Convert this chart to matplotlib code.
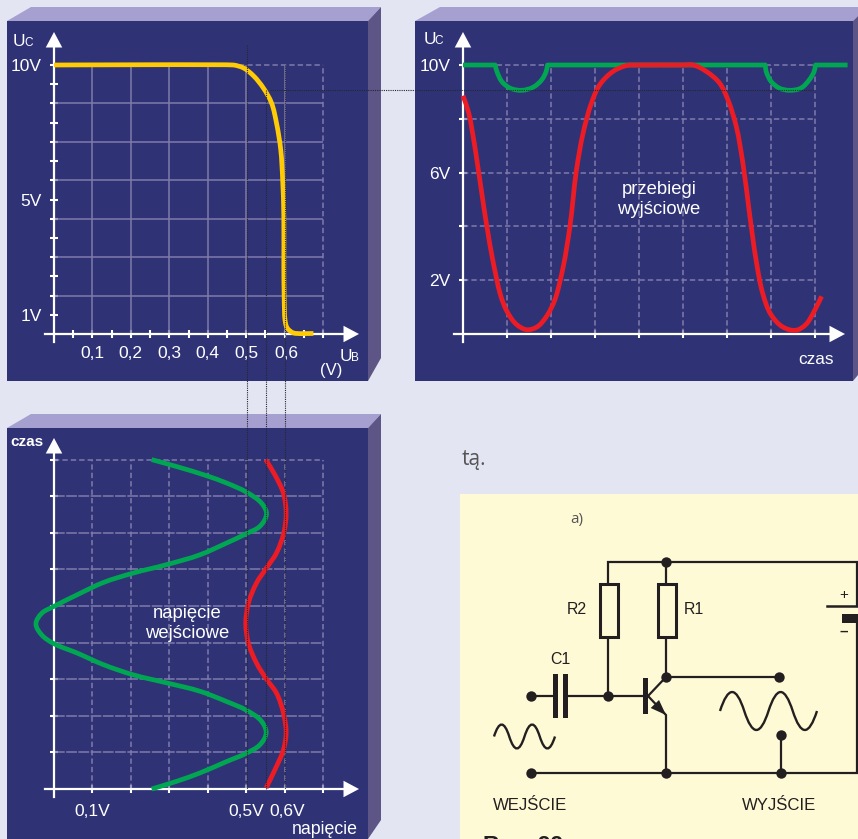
import numpy as np
import matplotlib
matplotlib.use('Agg')
import matplotlib.pyplot as plt
from matplotlib.patches import Polygon, Rectangle, PathPatch
from matplotlib.path import Path
from matplotlib.transforms import ScaledTranslation

plt.rcParams['font.family'] = ['Liberation Sans', 'DejaVu Sans']

W, H = 858, 839

BG = '#E3E5F3'
FRONT = '#2F3376'
TOP = '#A5A0D0'
SIDE = '#5D5585'
GRID = '#7F7AAB'
YELLOW = '#FFCB05'
GREEN = '#00A651'
RED = '#ED1C24'
PAPER = '#FFFAD6'
INK = '#231F20'

# transfer characteristic
ub = [0, 0.467, 0.493, 0.519, 0.545, 0.566, 0.579, 0.59, 0.595, 0.598, 0.598,
      0.599, 0.601, 0.607, 0.623, 0.675]
uc = [10, 10, 9.89, 9.6, 9.14, 8.59, 7.84, 6.85, 5.74, 4.37, 2.5,
      1.28, 0.53, 0.22, 0.04, 0.02]

# output waveforms
out_red_t = [0, 0.13, 0.28, 0.47, 0.66, 0.85, 1.0, 1.22, 1.45, 1.68, 1.9, 2.09,
             2.28, 2.43, 2.58, 2.73, 2.92, 3.11, 3.41, 3.72, 3.98, 4.98, 5.23,
             5.53, 5.83, 6.02, 6.21, 6.36, 6.51, 6.66, 6.81, 7.0, 7.27, 7.57,
             7.79, 7.98, 8.15]
out_red_v = [8.86, 8.22, 6.85, 4.75, 2.89, 1.46, 0.84, 0.35, 0.16, 0.26, 0.66, 1.28,
             2.52, 4.0, 6.11, 7.47, 8.59, 9.27, 9.76, 9.98, 10, 10, 10,
             9.76, 9.33, 8.71, 7.72, 6.36, 4.5, 2.76, 1.52, 0.72, 0.26, 0.14,
             0.35, 0.84, 1.4]
out_green_t = [0, 0.73, 0.77, 0.88, 1.07, 1.34, 1.6, 1.79, 1.89, 1.92, 6.87, 6.89,
               7.0, 7.19, 7.42, 7.68, 7.87, 7.98, 8.01, 8.74]
out_green_v = [10, 10, 9.76, 9.39, 9.14, 9.06, 9.18, 9.45, 9.76, 10, 10, 9.76,
               9.39, 9.14, 9.06, 9.14, 9.45, 9.76, 10, 10]

# input waveforms
in_green_v = [0.254, 0.319, 0.38, 0.449, 0.501, 0.536, 0.552, 0.54, 0.501, 0.449,
              0.38, 0.293, 0.206, 0.128, 0.059, -0.002, -0.032, -0.047, -0.032,
              -0.002, 0.059, 0.128, 0.206, 0.293, 0.38, 0.449, 0.501, 0.536,
              0.553, 0.54, 0.501, 0.449, 0.397, 0.319, 0.254]
in_green_t = [0, 0.21, 0.44, 0.75, 0.98, 1.21, 1.53, 1.85, 2.15, 2.39,
              2.67, 2.9, 3.12, 3.4, 3.72, 3.98, 4.21, 4.51, 4.8,
              4.98, 5.3, 5.64, 5.9, 6.13, 6.4, 6.72, 6.98, 7.18,
              7.52, 7.81, 8.11, 8.36, 8.56, 8.81, 9.0]
in_red_v = [0.552, 0.575, 0.597, 0.604, 0.598, 0.579, 0.553, 0.527, 0.506, 0.499,
            0.506, 0.527, 0.553, 0.579, 0.598, 0.604, 0.597, 0.575, 0.551]
in_red_t = [0.03, 0.53, 1.07, 1.53, 2.03, 2.62, 3.0, 3.44, 3.98, 4.53,
            5.08, 5.63, 6.04, 6.45, 7.0, 7.54, 8.08, 8.58, 9.0]

# ticks
p1_xticks = [0.05, 0.1, 0.15, 0.2, 0.25, 0.3, 0.35, 0.4, 0.45, 0.5, 0.55, 0.6, 0.65, 0.7]
p1_xlabels = ['', '0,1', '', '0,2', '', '0,3', '', '0,4', '', '0,5', '', '0,6', '', '']
p1_yticks = [10 * k / 14 for k in range(1, 15)]
p1_ylabels = ['1V', '', '', '', '', '', '5V', '', '', '', '', '', '', '10V']
p2_xticks = [1, 2, 3, 4, 5, 6, 7, 8]
p2_yticks = [2, 4, 6, 8, 10]
p2_ylabels = ['2V', '', '6V', '', '10V']
p3_xticks = [0.1, 0.2, 0.3, 0.4, 0.5, 0.6, 0.7]
p3_xlabels = ['0,1V', '', '', '', '0,5V', '0,6V', '']
p3_yticks = [1, 2, 3, 4, 5, 6, 7, 8, 9]

fig = plt.figure(figsize=(W / 100, H / 100), dpi=100, facecolor=BG)

# background layer in pixel coordinates
back = fig.add_axes([0, 0, 1, 1], zorder=0)
back.set_xlim(0, W)
back.set_ylim(H, 0)
back.axis('off')

blocks = [
    {'front': (7, 21, 368, 381), 'top': [(7, 21), (31, 7), (381, 7), (368, 21)],
     'side': [(368, 21), (381, 7), (381, 358), (368, 381)]},
    {'front': (415, 21, 853, 381), 'top': [(415, 21), (440, 7), (858, 7), (858, 16), (853, 21)],
     'side': [(853, 21), (858, 16), (858, 375), (853, 381)]},
    {'front': (7, 428, 368, 839), 'top': [(7, 428), (31, 414), (381, 414), (368, 428)],
     'side': [(368, 428), (381, 414), (381, 820), (368, 839)]},
]
for b in blocks:
    l, t, r, bt = b['front']
    back.add_patch(Rectangle((l, t), r - l, bt - t, fc=FRONT, ec='none'))
    back.add_patch(Polygon(b['top'], fc=TOP, ec='none'))
    back.add_patch(Polygon(b['side'], fc=SIDE, ec='none'))


def chart_axes(front, origin, xs, ys):
    l, t, r, bt = front
    ox, oy = origin
    ax = fig.add_axes([l / W, 1 - bt / H, (r - l) / W, (bt - t) / H], zorder=1)
    ax.patch.set_alpha(0)
    ax.set_xlim((l - ox) / xs, (r - ox) / xs)
    ax.set_ylim((oy - bt) / ys, (oy - t) / ys)
    for s in ['top', 'right']:
        ax.spines[s].set_visible(False)
    for s in ['left', 'bottom']:
        ax.spines[s].set_position(('data', 0))
        ax.spines[s].set_color('white')
        ax.spines[s].set_linewidth(1.6)
    ax.tick_params(colors='white', direction='inout', length=6, width=1.5, labelsize=12.5)
    return ax


def arrows(ax, xs, ys, x0, x1, y0, y1):
    # axis lines run a bit past the origin, arrow heads at the far ends
    ax.spines['bottom'].set_bounds(x0, x1)
    ax.spines['left'].set_bounds(y0, y1)
    head = dict(arrowstyle='-|>,head_length=0.62,head_width=0.33', color='white',
                lw=0, mutation_scale=18, shrinkA=0, shrinkB=0)
    ax.annotate('', xy=(x1 + 12 / xs, 0), xytext=(x1 - 3 / xs, 0), arrowprops=head, annotation_clip=False)
    ax.annotate('', xy=(0, y1 + 12 / ys), xytext=(0, y1 - 3 / ys), arrowprops=head, annotation_clip=False)


def smooth(ax, x, y, xs, ys, color, zorder=5, lw=3.4):
    # bezier through the read points, sharp where the trace really has a corner
    p = np.column_stack([np.array(x) * xs, np.array(y) * ys])
    seg = np.diff(p, axis=0)
    ln = np.hypot(seg[:, 0], seg[:, 1])
    un = seg / ln[:, None]
    verts = [p[0]]
    codes = [Path.MOVETO]
    n = len(p)
    dirs_in = [un[0]] + [None] * (n - 2) + [un[-1]]
    dirs_out = [un[0]] + [None] * (n - 2) + [un[-1]]
    for i in range(1, n - 1):
        if np.dot(un[i - 1], un[i]) < 0.55:
            dirs_in[i], dirs_out[i] = un[i - 1], un[i]
        else:
            d = un[i - 1] + un[i]
            d = d / np.hypot(*d)
            dirs_in[i] = dirs_out[i] = d
    for i in range(n - 1):
        h = ln[i] / 3
        if i > 0:
            h = min(h, ln[i - 1] / 3 * 1.5)
        if i < n - 2:
            h = min(h, ln[i + 1] / 3 * 1.5)
        verts += [p[i] + dirs_out[i] * h, p[i + 1] - dirs_in[i + 1] * h, p[i + 1]]
        codes += [Path.CURVE4] * 3
    verts = np.array(verts) / [xs, ys]
    ax.add_patch(PathPatch(Path(verts, codes), fc='none', ec=color, lw=lw,
                           capstyle='butt', joinstyle='round', zorder=zorder))


def nudge(lab, dx):
    lab.set_transform(lab.get_transform() + ScaledTranslation(dx / 100, 0, fig.dpi_scale_trans))


DASH = (0, (3.5, 2))

P1_X, P1_Y = 384.3, 26.9
ax1 = chart_axes(blocks[0]['front'], (54, 334), P1_X, P1_Y)
ax1.set_xticks(p1_xticks, p1_xlabels)
ax1.set_yticks(p1_yticks, p1_ylabels)
ax1.tick_params(axis='x', pad=6)
ax1.tick_params(axis='y', pad=6)
ax1.vlines(p1_xticks[1::2][:-1], 0, 10, color=GRID, lw=1.1)
ax1.vlines(0.7, 0, 10, color=GRID, lw=1.1, ls=DASH)
ax1.hlines(p1_yticks[1:13:2], 0, 0.7, color=GRID, lw=1.1)
ax1.hlines(10, 0, 0.7, color=GRID, lw=1.1, ls=DASH)
smooth(ax1, ub, uc, P1_X, P1_Y, YELLOW)
arrows(ax1, P1_X, P1_Y, -9 / P1_X, 293 / P1_X, -8 / P1_Y, 290 / P1_Y)
nudge(ax1.get_xticklabels()[11], 2)

P2_X, P2_Y = 44.0, 26.9
ax2 = chart_axes(blocks[1]['front'], (463, 334), P2_X, P2_Y)
ax2.set_xticks(p2_xticks, [''] * len(p2_xticks))
ax2.set_yticks(p2_yticks, p2_ylabels)
ax2.tick_params(axis='y', pad=6)
ax2.vlines(p2_xticks, 0, 10, color=GRID, lw=1.1, ls=DASH)
ax2.hlines(p2_yticks, 0, 8, color=GRID, lw=1.1, ls=DASH)
smooth(ax2, out_green_t, out_green_v, P2_X, P2_Y, GREEN)
smooth(ax2, out_red_t, out_red_v, P2_X, P2_Y, RED, zorder=6)
arrows(ax2, P2_X, P2_Y, -9 / P2_X, 370 / P2_X, -8 / P2_Y, 290 / P2_Y)

P3_X, P3_Y = 384.3, 36.6
ax3 = chart_axes(blocks[2]['front'], (54, 789), P3_X, P3_Y)
ax3.set_xticks(p3_xticks, p3_xlabels)
ax3.set_yticks(p3_yticks, [''] * len(p3_yticks))
ax3.tick_params(axis='x', pad=8)
ax3.vlines(p3_xticks, 0, 9, color=GRID, lw=1.1, ls=DASH)
ax3.hlines(p3_yticks[:-1], 0, 0.7, color=GRID, lw=1.1, ls=(0, (7, 1)))
ax3.hlines(9, 0, 0.7, color=GRID, lw=1.1, ls=DASH)
smooth(ax3, in_green_v, in_green_t, P3_X, P3_Y, GREEN)
smooth(ax3, in_red_v, in_red_t, P3_X, P3_Y, RED, zorder=6)
arrows(ax3, P3_X, P3_Y, -9 / P3_X, 293 / P3_X, -8 / P3_Y, 339 / P3_Y)
nudge(ax3.get_xticklabels()[5], 2.5)

# top layer: guide lines, labels, schematic
top = fig.add_axes([0, 0, 1, 1], zorder=2)
top.patch.set_alpha(0)
top.set_xlim(0, W)
top.set_ylim(H, 0)
top.axis('off')

GUIDE = dict(color='#26262E', lw=0.8, ls=(0, (1, 1)), zorder=3)
top.plot([246.5, 246.5], [45, 789], **GUIDE)
top.plot([265.8, 265.8], [90, 789], **GUIDE)
top.plot([285, 285], [65, 789], **GUIDE)
top.plot([270, 815], [90, 90], **GUIDE)


def label(x, y, s, size=13.3, ha='center', color='white', **kw):
    top.text(x, y, s, fontsize=size, ha=ha, va='center', color=color, **kw)


def base_label(x, y, s, size):
    top.text(x, y, s, fontsize=size, ha='center', va='baseline', color='white')


base_label(19, 46, 'U', 12.5)
base_label(28.5, 46, 'C', 8.5)
base_label(429.5, 44, 'U', 12.5)
base_label(439, 44, 'C', 8.5)
base_label(346, 361, 'U', 12.5)
base_label(355, 361, 'B', 8.5)
label(331.5, 370, '(V)', 12)
label(816, 360, 'czas', 12.3)
label(659, 190, 'przebiegi')
label(659, 210, 'wyjściowe')
label(27, 442, 'czas', 11, fontweight='bold')
label(187, 614, 'napięcie')
label(187, 633, 'wejściowe')
label(325, 830, 'napięcie', 12.8)

# schematic panel
top.add_patch(Rectangle((460, 494), W - 460, H - 494, fc=PAPER, ec='none', zorder=1))
top.text(462, 459, 'tą.', fontsize=15, family='Open Sans', color='#555555', ha='left', va='center')
label(576.5, 519, 'a)', 11, color='#555555', family='Open Sans')

wires = [
    [(608, 582), (608, 562), (857, 562), (857, 606)],
    [(857, 622), (857, 773), (531, 773)],
    [(666, 562), (666, 582)],
    [(608, 638), (608, 696)],
    [(666, 638), (666, 677), (779, 677)],
    [(531, 696), (555, 696)],
    [(566, 696), (645, 696)],
    [(648, 696), (666, 677)],
    [(648, 696), (666, 715), (666, 773)],
    [(781, 773), (781, 735)],
]
for w in wires:
    xs, ys = zip(*w)
    top.plot(xs, ys, color=INK, lw=1.6, solid_joinstyle='miter', zorder=4)

nodes_x = [666, 608, 666, 779, 531, 531, 666, 781, 781]
nodes_y = [562, 696, 677, 677, 696, 773, 773, 773, 735]
top.scatter(nodes_x, nodes_y, s=56, color=INK, linewidths=0, zorder=5)

for x0 in [598, 656]:
    top.add_patch(Rectangle((x0 + 1.5, 583.5), 18, 53, fc=PAPER, ec=INK, lw=2.2, zorder=4))

for x0, y0, w, h in [(553, 674, 5, 44), (563, 674, 5, 44), (643, 678, 5, 36), (842, 614, 16, 9)]:
    top.add_patch(Rectangle((x0, y0), w, h, fc=INK, ec='none', zorder=5))
top.plot([827, 858], [606, 606], color=INK, lw=1.8, zorder=5)
top.add_patch(Polygon([(666, 715), (650.7, 708), (659, 700)], fc=INK, ec='none', zorder=5))


def wave(x0, x1, mid, amp):
    # two periods of a hand drawn wave as quadratic pieces
    verts = [(x0, mid)]
    n = 4
    step = (x1 - x0) / n
    sign = -1
    for i in range(n):
        verts.append((x0 + (i + 0.5) * step, mid + sign * amp * 2))
        verts.append((x0 + (i + 1) * step, mid))
        sign = -sign
    codes = [Path.MOVETO] + [Path.CURVE3] * (2 * n)
    return PathPatch(Path(verts, codes), fc='none', ec=INK, lw=1.7, capstyle='butt', zorder=5)


top.add_patch(wave(494, 555, 736.5, 12))
top.add_patch(wave(720, 817, 711, 19))

label(577, 610, 'R2', 11.4, color=INK)
label(694, 610, 'R1', 11.4, color=INK)
label(560, 660, 'C1', 11.4, color=INK)
label(530, 805.5, 'WEJŚCIE', 12.1, color=INK)
label(779, 805.5, 'WYJŚCIE', 12.1, color=INK)
label(844, 595, '+', 11, color=INK)
label(844, 632, '–', 11, color=INK, fontweight='bold')
top.text(483, 853.5, 'Rys. 22', fontsize=16.5, fontweight='bold', color=INK, ha='left', va='baseline', clip_on=True)

fig.savefig('out.png', dpi=100, facecolor=BG)
